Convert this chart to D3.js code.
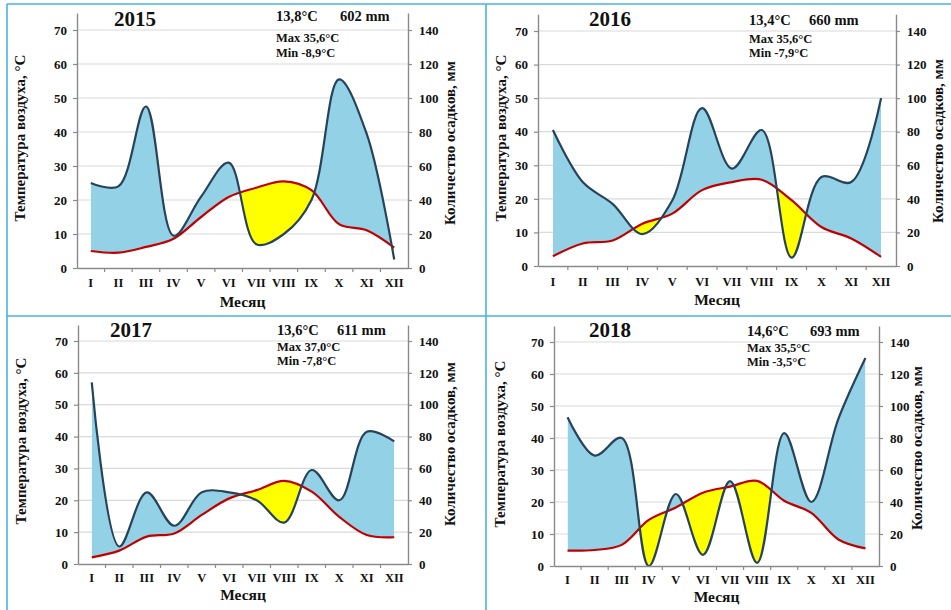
<!DOCTYPE html>
<html lang="ru">
<head>
<meta charset="utf-8">
<script src="https://cdn.jsdelivr.net/npm/d3@7"></script>
<style>
  html, body { margin: 0; padding: 0; background: #fff; }
  svg { display: block; }
  text { font-family: "Liberation Serif", "Times New Roman", serif; font-weight: bold; fill: #111; }
</style>
</head>
<body>
<svg id="chart" width="951" height="610"></svg>
<script>
// Climate diagrams (Walter–Lieth style): mean monthly air temperature and precipitation
const months = ["I", "II", "III", "IV", "V", "VI", "VII", "VIII", "IX", "X", "XI", "XII"];
const years = [2015, 2016, 2017, 2018];

// mean monthly air temperature, °C
const temp2015 = [5.0, 4.5, 6.2, 8.6, 15.0, 20.9, 23.6, 25.5, 22.9, 12.9, 11.1, 6.0];
const temp2016 = [2.9, 6.7, 7.6, 12.6, 15.6, 22.6, 25.0, 25.7, 19.6, 11.6, 8.2, 2.7];
const temp2017 = [2.1, 4.2, 8.6, 9.6, 15.4, 20.6, 23.2, 26.1, 22.7, 14.8, 9.1, 8.4];
const temp2018 = [4.8, 5.0, 6.6, 14.4, 18.3, 22.9, 24.8, 26.6, 20.4, 16.6, 8.3, 5.5];

// monthly precipitation, mm
const precip2015 = [50, 48, 95, 19, 42, 62, 14, 20, 40, 111, 79, 5];
const precip2016 = [81, 50, 37, 19, 39, 94, 58, 81, 5, 53, 50, 100];
const precip2017 = [114, 11, 45, 24, 45, 45, 40, 26, 59, 40, 83, 77];
const precip2018 = [93, 69, 80, 0, 45, 7, 53, 2, 83, 40, 92, 130];

// annual summary figures
const meanTemp = [13.8, 13.4, 13.6, 14.6];
const annualPrecip = [602, 660, 611, 693];
const maxTemp = [35.6, 35.6, 37.0, 35.5];
const minTemp = [-8.9, -7.9, -7.8, -3.5];

// axis ticks
const tempTicks = [0, 10, 20, 30, 40, 50, 60, 70];
const precipTicks = [0, 20, 40, 60, 80, 100, 120, 140];

const temps = [temp2015, temp2016, temp2017, temp2018];
const precips = [precip2015, precip2016, precip2017, precip2018];

// plot frames and text placement for the four panels
const layout = [
  { L: 77, R: 408, T: 30, B: 268, yearX: 135, yearY: 26, statX: 276, statY: 21, statGap: 64, maxY: 42, minY: 57,
    leftTitleX: 22, leftTitleY: 138, rightTitleX: 452, rightTitleY: 143, monthY: 287, xTitleY: 307 },
  { L: 538, R: 896, T: 31, B: 266, yearX: 610, yearY: 26, statX: 749, statY: 25, statGap: 60, maxY: 43, minY: 57,
    leftTitleX: 503, leftTitleY: 138, rightTitleX: 940, rightTitleY: 141, monthY: 286, xTitleY: 305 },
  { L: 78, R: 408, T: 341, B: 564, yearX: 131, yearY: 337, statX: 277, statY: 335, statGap: 60, maxY: 351, minY: 365,
    leftTitleX: 23, leftTitleY: 441, rightTitleX: 452, rightTitleY: 444, monthY: 582, xTitleY: 600 },
  { L: 554, R: 879, T: 342, B: 566, yearX: 610, yearY: 337, statX: 747, statY: 336, statGap: 63, maxY: 352, minY: 366,
    leftTitleX: 502, leftTitleY: 444, rightTitleX: 919, rightTitleY: 448, monthY: 584, xTitleY: 602 }
];

const COLORS = {
  wet: "#93d2e6",
  dry: "#ffff00",
  precipLine: "#27435a",
  tempLine: "#c00000",
  grid: "#dadada",
  axis: "#8a8a8a",
  frame: "#4ab3dc"
};

const fmt1 = v => v.toFixed(1).replace(".", ",");

const svg = d3.select("#chart");
const defs = svg.append("defs");

// panel frame lines
const frame = svg.append("g").attr("stroke", COLORS.frame).attr("stroke-width", 1.6).attr("fill", "none");
frame.append("line").attr("x1", 7).attr("y1", 4).attr("x2", 951).attr("y2", 4);
frame.append("line").attr("x1", 7).attr("y1", 4).attr("x2", 7).attr("y2", 610);
frame.append("line").attr("x1", 486).attr("y1", 4).attr("x2", 486).attr("y2", 610);
frame.append("line").attr("x1", 7).attr("y1", 316).attr("x2", 951).attr("y2", 316);

const curve = d3.curveCatmullRom.alpha(0.5);

years.forEach((year, i) => {
  const lay = layout[i];
  const tData = temps[i];
  const pData = precips[i];
  const rows = months.map((m, k) => ({ month: m, t: tData[k], p: pData[k] }));

  // the y range reaches 5 units above the top tick, as the axis lines do
  const plotH = (lay.B - lay.T) * 75 / 70;
  const yTop = lay.B - plotH;

  const x = d3.scaleBand().domain(months).range([lay.L, lay.R]).paddingInner(0).paddingOuter(0);
  const yT = d3.scaleLinear().domain([0, 75]).range([lay.B, yTop]);
  const yP = d3.scaleLinear().domain([0, 150]).range([lay.B, yTop]);
  const cx = d => x(d.month) + x.bandwidth() / 2;

  const g = svg.append("g").attr("class", "panel-" + year);

  // horizontal grid
  g.append("g").selectAll("line").data(tempTicks.filter(v => v > 0)).join("line")
    .attr("x1", lay.L).attr("x2", lay.R)
    .attr("y1", d => yT(d)).attr("y2", d => yT(d))
    .attr("stroke", COLORS.grid).attr("stroke-width", 1.2);

  // clipping regions: below / above the precipitation curve
  const belowId = "below-" + year, aboveId = "above-" + year;
  defs.append("clipPath").attr("id", belowId).append("path")
    .attr("d", d3.area().x(cx).y0(lay.B + 40).y1(d => yP(d.p)).curve(curve)(rows));
  defs.append("clipPath").attr("id", aboveId).append("path")
    .attr("d", d3.area().x(cx).y0(yTop - 40).y1(d => yP(d.p)).curve(curve)(rows));

  const between = d3.area().x(cx).y0(d => yT(d.t)).y1(d => yP(d.p)).curve(curve);

  // humid period (precipitation above temperature)
  g.append("path").attr("d", between(rows)).attr("fill", COLORS.wet)
    .attr("clip-path", `url(#${belowId})`);
  // dry period (temperature above precipitation)
  g.append("path").attr("d", between(rows)).attr("fill", COLORS.dry)
    .attr("clip-path", `url(#${aboveId})`);

  // temperature curve
  g.append("path").attr("d", d3.line().x(cx).y(d => yT(d.t)).curve(curve)(rows))
    .attr("fill", "none").attr("stroke", COLORS.tempLine).attr("stroke-width", 2.2);
  // precipitation curve
  g.append("path").attr("d", d3.line().x(cx).y(d => yP(d.p)).curve(curve)(rows))
    .attr("fill", "none").attr("stroke", COLORS.precipLine).attr("stroke-width", 2.2);

  // left axis (temperature)
  const axL = g.append("g").attr("transform", `translate(${lay.L},0)`)
    .call(d3.axisLeft(yT).tickValues(tempTicks).tickSize(4).tickSizeOuter(0).tickPadding(6));
  // right axis (precipitation)
  const axR = g.append("g").attr("transform", `translate(${lay.R},0)`)
    .call(d3.axisRight(yP).tickValues(precipTicks).tickSize(4).tickSizeOuter(0).tickPadding(7));
  [axL, axR].forEach(ax => {
    ax.select(".domain").attr("stroke", COLORS.axis).attr("stroke-width", 1.4);
    ax.selectAll(".tick line").attr("stroke", COLORS.axis).attr("stroke-width", 1.2);
    ax.selectAll(".tick text").attr("font-family", "Liberation Serif").attr("font-weight", "bold")
      .attr("font-size", 13).attr("fill", "#111");
  });

  // bottom axis: month names at band centres, ticks at band edges
  const axB = g.append("g").attr("transform", `translate(0,${lay.B})`)
    .call(d3.axisBottom(x).tickSize(0).tickSizeOuter(0).tickPadding(lay.monthY - lay.B - 9));
  axB.select(".domain").attr("stroke", COLORS.axis).attr("stroke-width", 1.4);
  axB.selectAll(".tick text").attr("font-family", "Liberation Serif").attr("font-weight", "bold")
    .attr("font-size", 12.5).attr("fill", "#111");
  g.append("g").selectAll("line").data(months.slice(1)).join("line")
    .attr("x1", d => x(d)).attr("x2", d => x(d))
    .attr("y1", lay.B).attr("y2", lay.B + 4)
    .attr("stroke", COLORS.axis).attr("stroke-width", 1.2);

  // axis titles
  g.append("text").attr("transform", `translate(${lay.leftTitleX},${lay.leftTitleY}) rotate(-90)`)
    .attr("text-anchor", "middle").attr("dominant-baseline", "middle")
    .attr("font-size", 15).text("Температура воздуха, °C");
  g.append("text").attr("transform", `translate(${lay.rightTitleX},${lay.rightTitleY}) rotate(-90)`)
    .attr("text-anchor", "middle").attr("dominant-baseline", "middle")
    .attr("font-size", 15).text("Количество осадков, мм");
  g.append("text").attr("x", (lay.L + lay.R) / 2).attr("y", lay.xTitleY)
    .attr("text-anchor", "middle").attr("font-size", 15.5).text("Месяц");

  // year and annual figures
  g.append("text").attr("x", lay.yearX).attr("y", lay.yearY).attr("text-anchor", "middle")
    .attr("font-size", 21).text(year);
  g.append("text").attr("x", lay.statX).attr("y", lay.statY).attr("font-size", 14.5)
    .text(fmt1(meanTemp[i]) + "°C");
  g.append("text").attr("x", lay.statX + lay.statGap).attr("y", lay.statY).attr("font-size", 14.5)
    .text(annualPrecip[i] + " mm");
  g.append("text").attr("x", lay.statX).attr("y", lay.maxY).attr("font-size", 12.5)
    .text("Max " + fmt1(maxTemp[i]) + "°C");
  g.append("text").attr("x", lay.statX).attr("y", lay.minY).attr("font-size", 12.5)
    .text("Min " + fmt1(minTemp[i]) + "°C");
});
</script>
</body>
</html>
